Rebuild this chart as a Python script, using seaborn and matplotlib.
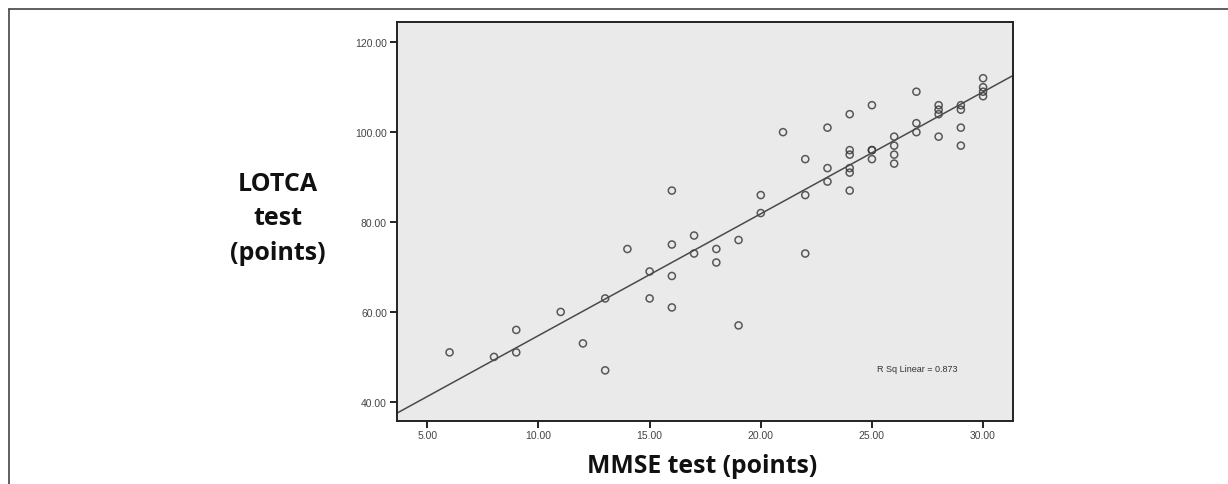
import matplotlib
matplotlib.use("Agg")
import matplotlib.pyplot as plt
from matplotlib.lines import Line2D
import seaborn as sns
import pandas as pd

# MMSE score (x) and LOTCA score (y) for each patient
mmse = [6, 8, 9, 9, 11, 12, 13, 13, 14, 15, 15, 16, 16, 16, 16, 17, 17, 18, 18, 19, 19,
        20, 20, 21, 22, 22, 22, 23, 23, 23, 24, 24, 24, 24, 24, 24, 25, 25, 25, 25,
        26, 26, 26, 26, 27, 27, 27, 28, 28, 28, 28, 29, 29, 29, 29, 30, 30, 30, 30]
lotca = [51, 50, 56, 51, 60, 53, 63, 47, 74, 69, 63, 87, 75, 68, 61, 77, 73, 74, 71, 76, 57,
         86, 82, 100, 94, 86, 73, 101, 92, 89, 104, 96, 95, 92, 91, 87, 106, 96, 96, 94,
         99, 97, 95, 93, 109, 102, 100, 106, 105, 104, 99, 106, 105, 101, 97, 112, 110, 109, 108]

x_ticks = [5, 10, 15, 20, 25, 30]
y_ticks = [40, 60, 80, 100, 120]
r_sq_text = "R Sq Linear = 0.873"

df = pd.DataFrame({"mmse": mmse, "lotca": lotca})

sns.set_theme(style="ticks")
plt.rcParams["font.family"] = ["Liberation Sans", "DejaVu Sans"]

fig = plt.figure(figsize=(12.28, 4.85), dpi=100)
ax = fig.add_axes([0.323, 0.1305, 0.502, 0.822])
ax.set_facecolor("#eaeaea")
ax.set_xlim(3.62, 31.35)
ax.set_ylim(35.8, 124.5)

sns.regplot(data=df, x="mmse", y="lotca", ax=ax, ci=None, truncate=False,
            scatter_kws=dict(s=26, facecolors="none", edgecolors="#333333", linewidths=1.1),
            line_kws=dict(color="#4a4a4a", linewidth=1.1))

ax.set_xlim(3.62, 31.35)
ax.set_ylim(35.8, 124.5)
ax.set_xticks(x_ticks)
ax.set_yticks(y_ticks)
ax.set_xticklabels([f"{v:.2f}" for v in x_ticks])
ax.set_yticklabels([f"{v:.2f}" for v in y_ticks])
ax.tick_params(axis="both", direction="out", length=5, width=1.3, labelsize=7.5,
               labelcolor="#444444", color="#111111", pad=2)
for s in ax.spines.values():
    s.set_visible(True)
    s.set_linewidth(1.4)
    s.set_color("#222222")

ax.set_xlabel("")
ax.set_ylabel("")
ax.text(0.78, 0.132, r_sq_text, transform=ax.transAxes, fontsize=6.5,
        color="#333333", ha="left", va="center")

fig.text(278 / 1228, 1 - 219 / 485, "LOTCA\ntest\n(points)", ha="center", va="center",
         fontsize=18, fontweight="bold", family=["Open Sans", "DejaVu Sans"],
         color="#111111", linespacing=1.5)
fig.text(702 / 1228, 1 - 467 / 485, "MMSE test (points)", ha="center", va="center",
         fontsize=17.8, fontweight="bold", family=["Open Sans", "DejaVu Sans"],
         color="#111111")

# outer frame (top and left edges)
fig.add_artist(Line2D([8.5 / 1228, 1], [1 - 9.5 / 485, 1 - 9.5 / 485],
                      transform=fig.transFigure, color="#444444", linewidth=1.2))
fig.add_artist(Line2D([8.5 / 1228, 8.5 / 1228], [0, 1 - 9.5 / 485],
                      transform=fig.transFigure, color="#444444", linewidth=1.2))

fig.savefig("out.png", dpi=100, facecolor="white")
